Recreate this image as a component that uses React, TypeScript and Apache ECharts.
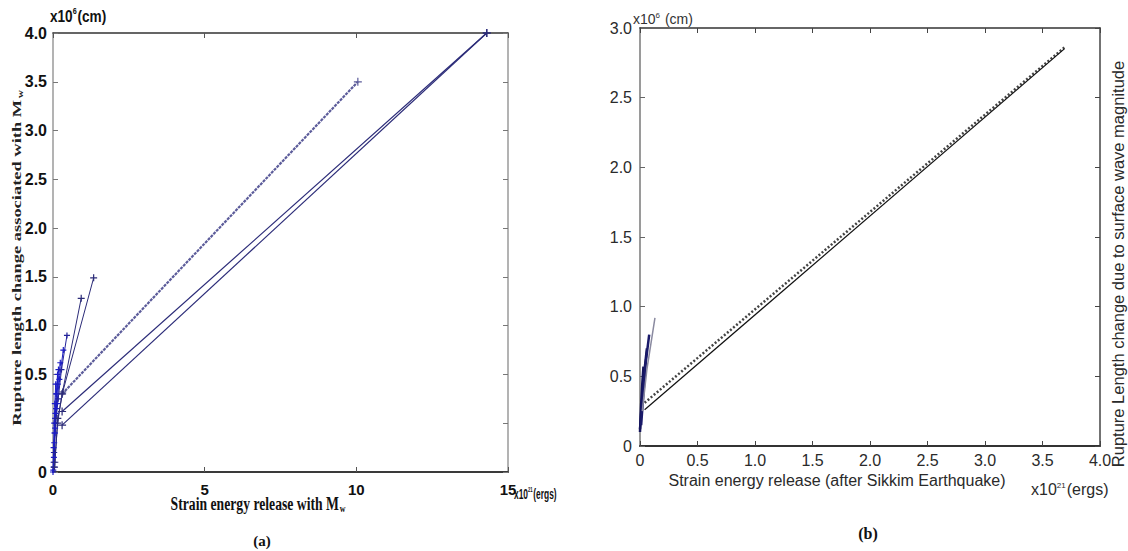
import React, { useEffect, useRef } from "react";
import * as echarts from "echarts";

// ---------- axis ranges / ticks ----------
const A_X_RANGE = [0, 15];
const A_X_STEP = 5;
const A_Y_RANGE = [-0.5, 4.0];
const A_Y_STEP = 0.5;
const B_X_RANGE = [0, 4];
const B_X_STEP = 0.5;
const B_Y_RANGE = [0, 3];
const B_Y_STEP = 0.5;

// ---------- panel (a) data : [energy x10^21 ergs, rupture length x10^6 cm] ----------
const aLongHatched = [[0.3, 0.3], [10.05, 3.5]];
const aLongUpper = [[0.3, 0.12], [14.3, 4.0]];
const aLongLower = [[0.3, -0.02], [14.3, 4.0]];
const aFan1 = [[0.01, -0.48], [0.03, -0.3], [0.05, -0.1], [0.08, 0.1], [0.11, 0.3], [0.15, 0.5]];
const aFan2 = [[0.02, -0.45], [0.04, -0.2], [0.07, 0.05], [0.11, 0.3], [0.18, 0.55]];
const aFan3 = [[0.02, -0.4], [0.06, -0.1], [0.1, 0.15], [0.16, 0.4], [0.24, 0.62]];
const aFan4 = [[0.03, -0.35], [0.07, -0.05], [0.13, 0.2], [0.21, 0.45], [0.34, 0.75]];
const aFan5 = [[0.04, -0.3], [0.09, 0.0], [0.17, 0.25], [0.28, 0.55], [0.46, 0.9]];
const aFan6 = [[0.05, -0.45], [0.15, 0.0], [0.3, 0.3], [0.93, 1.28]];
const aFan7 = [[0.06, -0.4], [0.16, 0.05], [0.32, 0.32], [1.34, 1.49]];
const aFan8 = [[0.0, -0.5], [0.02, -0.25], [0.04, 0.0], [0.06, 0.2], [0.09, 0.4]];

// ---------- panel (b) data ----------
const bLineUpper = [[0.04, 0.31], [3.69, 2.86]];
const bLineLower = [[0.04, 0.26], [3.69, 2.85]];
const bFan1 = [[0.0, 0.1], [0.01, 0.3], [0.02, 0.45], [0.03, 0.57]];
const bFan2 = [[0.0, 0.12], [0.02, 0.35], [0.04, 0.55], [0.06, 0.7]];
const bFan3 = [[0.01, 0.15], [0.03, 0.38], [0.05, 0.6], [0.08, 0.8]];
const bFan4 = [[0.02, 0.25], [0.06, 0.55], [0.13, 0.92]];

const PLUS = "path://M0,5L10,5M5,0L5,10";

function fmtOne(v: number) {
  return v === 0 ? "0" : v.toFixed(1);
}

function makeOption() {
  const bold = "Liberation Sans";
  const serif = "Liberation Serif";
  const sans = "Liberation Sans";

  const lineA = (name: string, data: number[][], color: string, width: number, symbolSize: number, type: any = "solid") => ({
    name,
    type: "line",
    xAxisIndex: 0,
    yAxisIndex: 0,
    data,
    symbol: PLUS,
    symbolSize,
    showSymbol: true,
    itemStyle: { color, borderColor: color, borderWidth: 1.2 },
    lineStyle: { color, width, type },
    silent: true,
  });
  const lineB = (name: string, data: number[][], color: string, width: number, type: any = "solid") => ({
    name,
    type: "line",
    xAxisIndex: 2,
    yAxisIndex: 2,
    data,
    symbol: "none",
    lineStyle: { color, width, type },
    silent: true,
  });

  const tickIn = (color: string) => ({ show: true, inside: true, length: 5, lineStyle: { color, width: 1 } });
  const line = (color: string, width: number) => ({ show: true, onZero: false, lineStyle: { color, width } });

  return {
    animation: false,
    backgroundColor: "#ffffff",
    grid: [
      { left: 53, right: 620, top: 33, bottom: 79, containLabel: false },
      { left: 640, right: 28, top: 28, bottom: 105, containLabel: false },
    ],
    xAxis: [
      {
        type: "value", gridIndex: 0, position: "bottom",
        min: A_X_RANGE[0], max: A_X_RANGE[1], interval: A_X_STEP,
        axisLine: line("#3a3a3a", 2),
        axisTick: tickIn("#555"),
        axisLabel: {
          fontFamily: bold, fontWeight: "bold", fontSize: 15, color: "#111", margin: 10,
          formatter: (v: number) => (v >= 10 ? `{r|${v}}` : `${v}`),
          rich: { r: { fontFamily: bold, fontWeight: "bold", fontSize: 15, color: "#111", padding: [0, 0, 14, 0] } },
        },
        splitLine: { show: false },
      },
      {
        type: "value", gridIndex: 0, position: "top",
        min: A_X_RANGE[0], max: A_X_RANGE[1], interval: A_X_STEP,
        axisLine: line("#333", 1.5),
        axisTick: tickIn("#555"),
        axisLabel: { show: false },
        splitLine: { show: false },
      },
      {
        type: "value", gridIndex: 1, position: "bottom",
        min: B_X_RANGE[0], max: B_X_RANGE[1], interval: B_X_STEP,
        axisLine: line("#333", 2),
        axisTick: tickIn("#444"),
        axisLabel: { fontFamily: sans, fontSize: 16, color: "#2a2a2a", margin: 6, formatter: fmtOne },
        splitLine: { show: false },
      },
      {
        type: "value", gridIndex: 1, position: "top",
        min: B_X_RANGE[0], max: B_X_RANGE[1], interval: B_X_STEP,
        axisLine: line("#333", 1.5),
        axisTick: tickIn("#444"),
        axisLabel: { show: false },
        splitLine: { show: false },
      },
    ],
    yAxis: [
      {
        type: "value", gridIndex: 0, position: "left",
        min: A_Y_RANGE[0], max: A_Y_RANGE[1], interval: A_Y_STEP,
        axisLine: line("#9a9a9a", 1.5),
        axisTick: tickIn("#777"),
        axisLabel: {
          fontFamily: bold, fontWeight: "bold", fontSize: 16, color: "#111", margin: 6,
          formatter: (v: number) => (v < 0 ? "0" : v === 0 ? "" : v.toFixed(1)),
        },
        splitLine: { show: false },
      },
      {
        type: "value", gridIndex: 0, position: "right",
        min: A_Y_RANGE[0], max: A_Y_RANGE[1], interval: A_Y_STEP,
        axisLine: line("#9a9a9a", 1.5),
        axisTick: tickIn("#777"),
        axisLabel: { show: false },
        splitLine: { show: false },
      },
      {
        type: "value", gridIndex: 1, position: "left",
        min: B_Y_RANGE[0], max: B_Y_RANGE[1], interval: B_Y_STEP,
        axisLine: line("#9a9a9a", 2),
        axisTick: tickIn("#666"),
        axisLabel: { fontFamily: sans, fontSize: 16, color: "#2a2a2a", margin: 8, formatter: fmtOne },
        splitLine: { show: false },
      },
      {
        type: "value", gridIndex: 1, position: "right",
        min: B_Y_RANGE[0], max: B_Y_RANGE[1], interval: B_Y_STEP,
        axisLine: line("#444", 1.5),
        axisTick: tickIn("#444"),
        axisLabel: { show: false },
        splitLine: { show: false },
      },
    ],
    series: [
      lineA("a-hatched", aLongHatched, "#5c5c9a", 2.2, 8, [3, 1]),
      lineA("a-upper", aLongUpper, "#2b2b78", 1.2, 8),
      lineA("a-lower", aLongLower, "#2b2b78", 1.2, 8),
      lineA("a-fan1", aFan1, "#1c1cc4", 1, 6),
      lineA("a-fan2", aFan2, "#1c1cc4", 1, 6),
      lineA("a-fan3", aFan3, "#1c1cc4", 1, 6),
      lineA("a-fan4", aFan4, "#1c1cc4", 1, 6),
      lineA("a-fan5", aFan5, "#22229a", 1, 6),
      lineA("a-fan6", aFan6, "#2b2b78", 1, 7),
      lineA("a-fan7", aFan7, "#2b2b78", 1, 7),
      lineA("a-fan8", aFan8, "#1c1cc4", 1, 6),
      lineB("b-upper", bLineUpper, "#444", 2.5, [2, 2]),
      lineB("b-lower", bLineLower, "#111", 1.2),
      lineB("b-fan1", bFan1, "#14145c", 2.5),
      lineB("b-fan2", bFan2, "#14145c", 2.5),
      lineB("b-fan3", bFan3, "#1a1a6a", 2.5),
      lineB("b-fan4", bFan4, "#8a8aa0", 1.5),
    ],
    graphic: [
      // panel (a) texts
      {
        type: "text", x: 50, y: 16, scaleX: 0.8,
        style: {
          text: "{a|x10}{s|6}{a|(cm)}",
          textVerticalAlign: "middle",
          rich: {
            a: { fontFamily: bold, fontWeight: "bold", fontSize: 17, fill: "#111" },
            s: { fontFamily: bold, fontWeight: "bold", fontSize: 9, fill: "#111", padding: [0, 1, 9, 0] },
          },
        },
      },
      {
        type: "text", x: 514, y: 494, scaleX: 0.6,
        style: {
          text: "{a|x10}{s|21}{a|(ergs)}",
          textVerticalAlign: "middle",
          rich: {
            a: { fontFamily: bold, fontWeight: "bold", fontSize: 14, fill: "#111" },
            s: { fontFamily: bold, fontWeight: "bold", fontSize: 7, fill: "#111", padding: [0, 1, 8, 0] },
          },
        },
      },
      {
        type: "text", x: 258, y: 504, scaleX: 0.72,
        style: {
          text: "{a|Strain energy release with M}{s|w}",
          textAlign: "center", textVerticalAlign: "middle",
          rich: {
            a: { fontFamily: serif, fontWeight: "bold", fontSize: 19, fill: "#111" },
            s: { fontFamily: serif, fontWeight: "bold", fontSize: 11, fill: "#111", padding: [8, 0, 0, 1] },
          },
        },
      },
      {
        type: "text", x: 17, y: 258, rotation: Math.PI / 2, scaleX: 1.42,
        style: {
          text: "{a|Rupture length change associated with M}{s|w}",
          textAlign: "center", textVerticalAlign: "middle",
          rich: {
            a: { fontFamily: serif, fontWeight: "bold", fontSize: 13, fill: "#222" },
            s: { fontFamily: serif, fontWeight: "bold", fontSize: 8, fill: "#222", padding: [6, 0, 0, 1] },
          },
        },
      },
      {
        type: "text", x: 262, y: 541,
        style: { text: "(a)", fontFamily: serif, fontWeight: "bold", fontSize: 15, fill: "#111", textAlign: "center", textVerticalAlign: "middle" },
      },
      // panel (b) texts
      {
        type: "text", x: 633, y: 19,
        style: {
          text: "{a|x10}{s|6}{a| (cm)}",
          textVerticalAlign: "middle",
          rich: {
            a: { fontFamily: sans, fontSize: 14, fill: "#333" },
            s: { fontFamily: sans, fontSize: 8, fill: "#333", padding: [0, 1, 7, 0] },
          },
        },
      },
      {
        type: "text", x: 837, y: 480,
        style: {
          text: "Strain energy release (after Sikkim Earthquake)",
          fontFamily: sans, fontSize: 16, fill: "#2a2a2a", textAlign: "center", textVerticalAlign: "middle",
        },
      },
      {
        type: "text", x: 1031, y: 489,
        style: {
          text: "{a|x10}{s|21}{a|(ergs)}",
          textVerticalAlign: "middle",
          rich: {
            a: { fontFamily: sans, fontSize: 16, fill: "#2a2a2a" },
            s: { fontFamily: sans, fontSize: 8, fill: "#2a2a2a", padding: [0, 1, 8, 0] },
          },
        },
      },
      {
        type: "text", x: 1118, y: 264, rotation: Math.PI / 2,
        style: {
          text: "Rupture Length change due to surface wave magnitude",
          fontFamily: sans, fontSize: 16.5, fill: "#2a2a2a", textAlign: "center", textVerticalAlign: "middle",
        },
      },
      {
        type: "text", x: 868, y: 533,
        style: { text: "(b)", fontFamily: serif, fontWeight: "bold", fontSize: 16, fill: "#111", textAlign: "center", textVerticalAlign: "middle" },
      },
    ],
  };
}

export default function App() {
  const ref = useRef<HTMLDivElement>(null);
  useEffect(() => {
    document.body.style.margin = "0";
    const chart = echarts.init(ref.current as HTMLDivElement, null, { renderer: "svg" });
    chart.setOption(makeOption() as any);
    return () => chart.dispose();
  }, []);
  return <div ref={ref} style={{ width: 1128, height: 551, background: "#ffffff" }} />;
}
